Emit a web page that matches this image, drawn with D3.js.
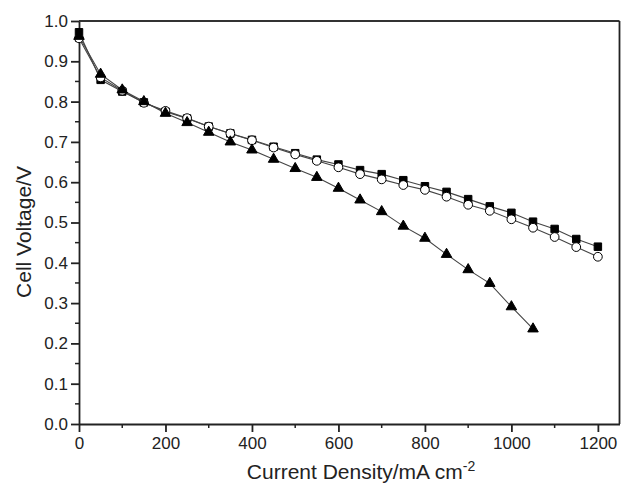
<!DOCTYPE html>
<meta charset="utf-8">
<body style="margin:0;background:#fff">
<script src="https://d3js.org/d3.v7.min.js"></script>
<style>
  text { font-family: "Liberation Sans", Arial, sans-serif; fill: #222; }
  .title { font-size: 21px; }
</style>
<script>
var width = 623, height = 484;
var margin = {left: 79, top: 21, right: 3.5, bottom: 60};

// current density, mA cm-2
var currents = [0, 50, 100, 150, 200, 250, 300, 350, 400, 450, 500, 550, 600,
                650, 700, 750, 800, 850, 900, 950, 1000, 1050, 1100, 1150, 1200];
var squareV = [0.972, 0.854, 0.825, 0.798, 0.775, 0.758, 0.738, 0.721, 0.705, 0.688, 0.672, 0.656, 0.644,
               0.630, 0.620, 0.605, 0.590, 0.576, 0.558, 0.540, 0.524, 0.502, 0.484, 0.459, 0.440];
var circleV = [0.957, 0.860, 0.827, 0.797, 0.777, 0.759, 0.738, 0.721, 0.704, 0.686, 0.669, 0.653, 0.637,
               0.620, 0.607, 0.593, 0.581, 0.564, 0.544, 0.529, 0.508, 0.487, 0.464, 0.439, 0.415];
var triangleV = [0.962, 0.868, 0.829, 0.800, 0.771, 0.748, 0.724, 0.700, 0.680, 0.657, 0.634, 0.612,
                 0.585, 0.556, 0.527, 0.491, 0.461, 0.421, 0.383, 0.349, 0.291, 0.236];
var xTicks = [0, 200, 400, 600, 800, 1000, 1200];
var yTicks = [0, 0.1, 0.2, 0.3, 0.4, 0.5, 0.6, 0.7, 0.8, 0.9, 1.0];

var svg = d3.select("body").append("svg")
    .attr("width", width).attr("height", height);

var x = d3.scaleLinear().domain([0, 1250]).range([margin.left, width - margin.right]);
var y = d3.scaleLinear().domain([0, 1]).range([height - margin.bottom, margin.top]);

// minor ticks
var xMinor = d3.range(100, 1250, 200);
var yMinor = d3.range(0.05, 1, 0.1);

svg.append("g").selectAll("line").data(xMinor).enter().append("line")
   .attr("x1", function(d) { return x(d); }).attr("x2", function(d) { return x(d); })
   .attr("y1", y(0)).attr("y2", y(0) + 4)
   .attr("stroke", "#222").attr("stroke-width", 1.5);
svg.append("g").selectAll("line").data(yMinor).enter().append("line")
   .attr("y1", function(d) { return y(d); }).attr("y2", function(d) { return y(d); })
   .attr("x1", x(0)).attr("x2", x(0) - 4)
   .attr("stroke", "#222").attr("stroke-width", 1.5);

var xAxis = svg.append("g")
    .attr("transform", "translate(0," + y(0) + ")")
    .call(d3.axisBottom(x).tickValues(xTicks).tickSize(8).tickPadding(5).tickSizeOuter(0)
          .tickFormat(d3.format("d")));
var yAxis = svg.append("g")
    .attr("transform", "translate(" + x(0) + ",0)")
    .call(d3.axisLeft(y).tickValues(yTicks).tickSize(8).tickPadding(3).tickSizeOuter(0)
          .tickFormat(d3.format(".1f")));
[xAxis, yAxis].forEach(function(g) {
  g.attr("font-family", "Liberation Sans, Arial, sans-serif").attr("font-size", 17);
  g.selectAll("path, line").attr("stroke", "#222").attr("stroke-width", 1.8);
  g.selectAll("text").attr("fill", "#222");
});

// frame top / right
svg.append("line").attr("x1", x(0)).attr("x2", x(1250)).attr("y1", y(1)).attr("y2", y(1))
   .attr("stroke", "#333").attr("stroke-width", 1.8);
svg.append("line").attr("x1", x(1250)).attr("x2", x(1250)).attr("y1", y(1)).attr("y2", y(0))
   .attr("stroke", "#222").attr("stroke-width", 1.8);

var line = d3.line().x(function(d) { return x(d[0]); }).y(function(d) { return y(d[1]); });
function pairs(vals) { return vals.map(function(v, i) { return [currents[i], v]; }); }

var series = [
  {vals: squareV, sym: d3.symbolSquare, size: 56, fill: "#000"},
  {vals: circleV, sym: d3.symbolCircle, size: 60, fill: "#fff"},
  {vals: triangleV, sym: d3.symbolTriangle, size: 48, fill: "#000"}
];

series.forEach(function(s) {
  svg.append("path").datum(pairs(s.vals))
     .attr("d", line).attr("fill", "none")
     .attr("stroke", "#444").attr("stroke-width", 1.1);
});
series.forEach(function(s) {
  svg.append("g").selectAll("path").data(pairs(s.vals)).enter().append("path")
     .attr("d", d3.symbol().type(s.sym).size(s.size))
     .attr("transform", function(d) { return "translate(" + x(d[0]) + "," + y(d[1]) + ")"; })
     .attr("fill", s.fill).attr("stroke", "#000").attr("stroke-width", 1);
});

// axis titles
var xt = svg.append("text").attr("class", "title")
   .attr("x", 361).attr("y", 479).attr("text-anchor", "middle");
xt.append("tspan").text("Current Density/mA cm");
xt.append("tspan").attr("dy", -8).attr("font-size", "14px").text("-2");

svg.append("text").attr("class", "title")
   .attr("transform", "translate(31," + 232 + ") rotate(-90)")
   .attr("text-anchor", "middle")
   .text("Cell Voltage/V");
</script>
</body>
</html>
